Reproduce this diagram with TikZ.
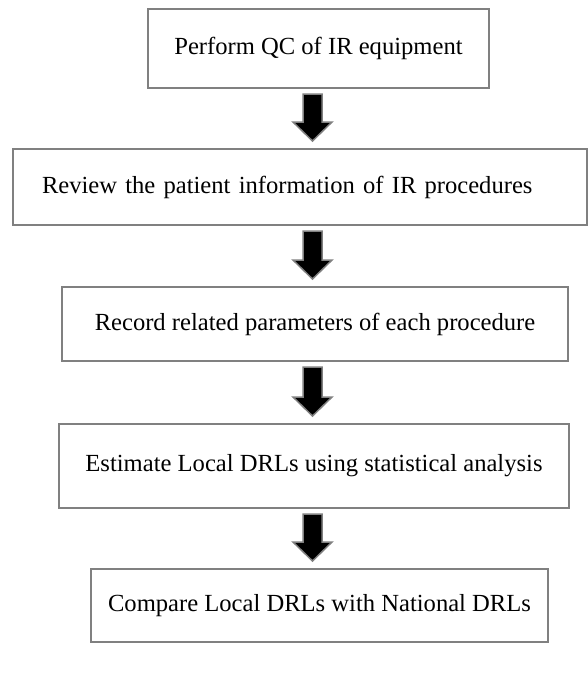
\documentclass[tikz,border=0pt]{standalone}
\usepackage{fontspec}
\setmainfont{Liberation Serif}
\usetikzlibrary{positioning,calc}
\tikzset{font=\fontsize{12.3}{14}\selectfont}
\definecolor{boxgray}{RGB}{128,128,128}
\tikzset{
	stepbox/.style={draw=boxgray, line width=1pt, fill=white, align=center, inner sep=1pt},
	blockarrow/.style={draw=boxgray, line width=0.75pt, fill=black}
}

\begin{document}
\begin{tikzpicture}[x=0.5pt, y=-0.5pt]
	\useasboundingbox (0,0) rectangle (588,687);
	% steps of the flow
	\node[stepbox, minimum width=170.5pt, minimum height=39.5pt] (qc) at (318.5, 48.5) {Perform QC of IR equipment};
	\node[stepbox, text width=258pt, align=left, inner xsep=14.5pt, minimum height=38pt] (review) at (300, 187) {Review the patient information of IR procedures};
	\node[stepbox, minimum width=253pt, minimum height=37pt] (record) at (315, 324) {Record related parameters of each procedure};
	\node[stepbox, minimum width=255pt, minimum height=42pt] (estimate) at (314, 466) {Estimate Local DRLs using statistical analysis};
	\node[stepbox, minimum width=228.5pt, minimum height=36.5pt] (compare) at (319.5, 605.5) {Compare Local DRLs with National DRLs};

	\coordinate (ax) at (312.5, 0);

	% block arrows between steps
	\foreach \a/\b in {qc/review, review/record, record/estimate, estimate/compare}
		\draw[blockarrow] let \p1=(\a.south -| ax), \p2=(\b.north -| ax) in
			(\x1-4.75pt, \y1-2.5pt) -- (\x1+4.75pt, \y1-2.5pt) -- (\x1+4.75pt, \y2+13pt)
			-- (\x1+9.75pt, \y2+13pt) -- (\x1, \y2+3.5pt) -- (\x1-9.75pt, \y2+13pt)
			-- (\x1-4.75pt, \y2+13pt) -- cycle;
\end{tikzpicture}
\end{document}
